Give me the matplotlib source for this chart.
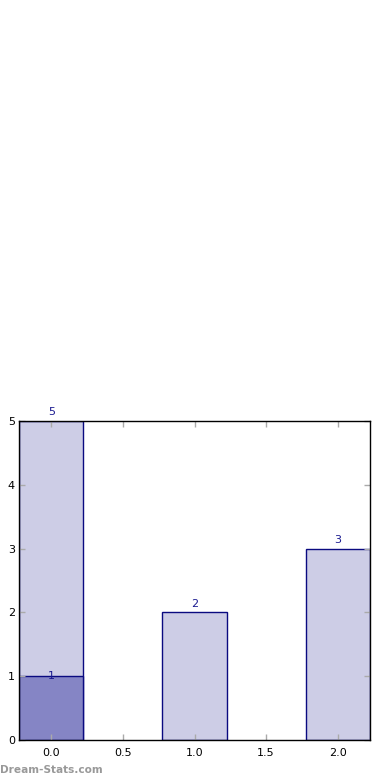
import matplotlib
matplotlib.use("Agg")
import matplotlib.pyplot as plt

positions = [0, 1, 2]
totals = [5, 2, 3]
highlight_pos = [0]
highlight_vals = [1]
xticks = [0.0, 0.5, 1.0, 1.5, 2.0]
yticks = [0, 1, 2, 3, 4, 5]

fig = plt.figure(figsize=(3.9, 7.8), dpi=100)
ax = fig.add_axes([19/390, 1-740/780, 351/390, 319/780])

ax.bar(positions, totals, width=0.45, color='#cdcde6', edgecolor='#0a0a80', linewidth=1.0)
ax.bar(highlight_pos, highlight_vals, width=0.45, color='#8585c5', edgecolor='#0a0a80', linewidth=1.0)

for x, v in zip(positions, totals):
    ax.text(x, v + 0.06, str(v), ha='center', va='bottom', color='#1a1a90', fontsize=8)
for x, v in zip(highlight_pos, highlight_vals):
    ax.text(x, v, str(v), ha='center', va='center', color='#1a1a90', fontsize=8)

ax.set_xlim(-0.225, 2.225)
ax.set_ylim(0, 5)
ax.set_xticks(xticks)
ax.set_xticklabels([f"{t:.1f}" for t in xticks])
ax.set_yticks(yticks)
ax.tick_params(direction='in', length=4, color='#aaaaaa', labelsize=8, top=True, right=True, width=1)
ax.tick_params(axis='x', pad=6)
ax.tick_params(axis='y', pad=3)
for s in ax.spines.values():
    s.set_linewidth(1.0)
    s.set_color('black')

fig.text(0.0, 1-770/780, "Dream-Stats.com", color='#999999', fontsize=7.6, fontweight='bold', va='center', ha='left')

fig.savefig("out.png", dpi=100)
